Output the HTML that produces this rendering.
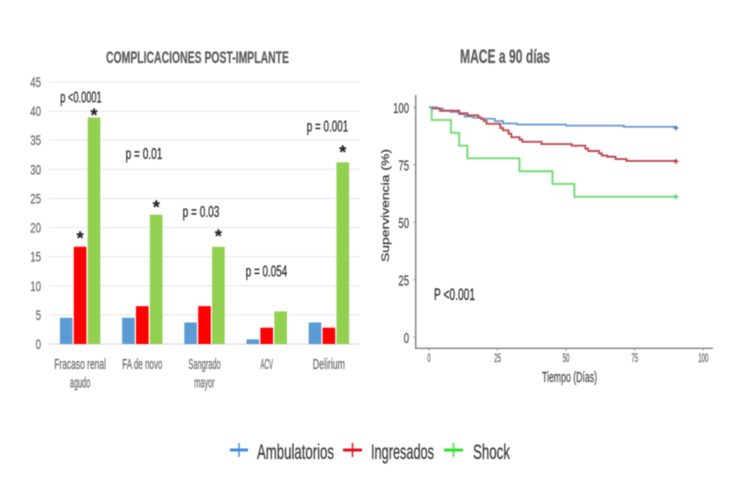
<!DOCTYPE html>
<html lang="es">
<head>
<meta charset="utf-8">
<title>Complicaciones post-implante y MACE a 90 días</title>
<style>
html,body{margin:0;padding:0;background:#fff;width:750px;height:500px;overflow:hidden}
svg{display:block;filter:blur(.5px)}
text{font-family:"Liberation Sans Narrow","Liberation Sans",sans-serif;stroke:currentColor;stroke-width:.2px}
</style>
</head>
<body>
<svg id="figure" width="750" height="500" viewBox="0 0 750 500" xmlns="http://www.w3.org/2000/svg">
  <rect width="750" height="500" fill="#fff"/>
  <g id="bar-chart"></g>
  <g id="km-chart"></g>
  <text x="106" y="63" font-size="16.500" font-weight="700" fill="#595959" color="#595959" textLength="183" lengthAdjust="spacingAndGlyphs">COMPLICACIONES POST-IMPLANTE</text>
  <text x="460" y="63" font-size="19.500" font-weight="700" fill="#595959" color="#595959" textLength="90" lengthAdjust="spacingAndGlyphs">MACE a 90 días</text>
  <text transform="translate(389,262) rotate(-90)" font-size="11" fill="#333" color="#333" style="font-family:'Liberation Sans',sans-serif" textLength="113" lengthAdjust="spacingAndGlyphs">Supervivencia (%)</text>
  <text x="542" y="382" font-size="15" fill="#444" color="#444" textLength="55" lengthAdjust="spacingAndGlyphs">Tiempo (Días)</text>
  <text x="434" y="300" font-size="17" fill="#222" color="#222" textLength="41" lengthAdjust="spacingAndGlyphs">P &lt;0.001</text>
  <g id="legend">
    <g>
      <path d="M230 450H248" stroke="#3f8fdc" stroke-width="3" fill="none"/>
      <path d="M239 443V457" stroke="#3f8fdc" stroke-width="1.500" fill="none"/>
      <text x="257" y="459" font-size="21" fill="#333" color="#333" textLength="77" lengthAdjust="spacingAndGlyphs">Ambulatorios</text>
    </g>
    <g>
      <path d="M343 450H362" stroke="#e3101c" stroke-width="3" fill="none"/>
      <path d="M352.500 443V457" stroke="#e3101c" stroke-width="1.500" fill="none"/>
      <text x="371" y="459" font-size="21" fill="#333" color="#333" textLength="63" lengthAdjust="spacingAndGlyphs">Ingresados</text>
    </g>
    <g>
      <path d="M444 450H463" stroke="#2fe02f" stroke-width="3" fill="none"/>
      <path d="M453.500 443V457" stroke="#2fe02f" stroke-width="1.500" fill="none"/>
      <text x="473" y="459" font-size="21" fill="#333" color="#333" textLength="37" lengthAdjust="spacingAndGlyphs">Shock</text>
    </g>
  </g>
</svg>
<script>
// ---- Bar chart data ----
const barCategories = [["Fracaso renal","agudo"],["FA de novo"],["Sangrado","mayor"],["ACV"],["Delirium"]];
const ambulatoriosValues = [4.5,4.5,3.7,0.8,3.7];
const ingresadosValues = [16.7,6.5,6.5,2.8,2.8];
const shockValues = [38.9,22.2,16.7,5.6,31.2];
const barTickLabels = [0,5,10,15,20,25,30,35,40,45];
const pLabels = ["p <0.0001","p = 0.01","p = 0.03","p = 0.054","p = 0.001"];
const pLabelHeights = [41.5,31.8,21.8,11.6,36.5];
const ingresadosStarLift = [1.85,null,null,null,null];
const shockStarLift = [0.8,1.7,2.2,null,2.1];

// ---- Survival chart data: [day, survival %] ----
const survivalTickX = [0,25,50,75,100];
const survivalTickY = [0,25,50,75,100];
const ambulatoriosDays = [0,3,5,8,11,13,16,19,24,27,32,50,71,90];
const ambulatoriosSurvival = [100,99.5,98.5,98,97,96,95.5,95,94,93,92.5,92,91.5,91];
const ingresadosDays = [1,4,11,14,18,19,20,21,26,27,29,30,33,34,41,52,57,58,62,63,65,68,72,90];
const ingresadosSurvival = [99.5,98.5,97.4,96.5,95.6,95,94,92.8,91,90,88.5,87,86,85,84,83.3,82,81,80,79,78.5,77.5,76.7,76.5];
const shockDays = [0,1,8,11,14,33,45,53,90];
const shockSurvival = [100,94.5,88.9,83.3,77.8,72.2,66.7,61.1,61.1];

const NS = "http://www.w3.org/2000/svg";
function mk(parent, tag, attrs, txt){
  const el = document.createElementNS(NS, tag);
  for (const k in attrs) el.setAttribute(k, attrs[k]);
  if (txt !== undefined) el.textContent = txt;
  parent.appendChild(el);
  return el;
}

// ---- Bar chart axes ----
const barRoot = document.getElementById("bar-chart");
const barLeft = 49, barRight = 360, barZeroY = 344, barPxPerUnit = 262/45;
const bandW = (barRight - barLeft) / barCategories.length;
const barW = 12.6, barGap = 1.3;
const yBar = v => barZeroY - v * barPxPerUnit;
const xBand = i => barLeft + bandW * (i + 0.5);

barTickLabels.forEach(t => {
  const line = mk(barRoot, "line", {x1:barLeft, x2:barRight, y1:yBar(t), y2:yBar(t), stroke: t === 0 ? "#d4d4d4" : "#e6e6e6", "stroke-width":1});
  
  
  const s = String(t);
  const label = mk(barRoot, "text", {x:41, y:yBar(t)+5, "text-anchor":"end", "font-size":14, fill:"#666", color:"#666", textLength:s.length*5.4, lengthAdjust:"spacingAndGlyphs"}, s);
  
  
});

const barSeries = [
  {values:ambulatoriosValues, color:"#5b9bd5", offset:-1},
  {values:ingresadosValues, color:"#ff0000", offset:0},
  {values:shockValues, color:"#92d050", offset:1}
];
barSeries.forEach(series => {
  series.values.forEach((v, i) => {
    const cx = xBand(i) + series.offset * (barW + barGap);
    const bar = mk(barRoot, "rect", {x:cx-barW/2, y:yBar(v), width:barW, height:barZeroY-yBar(v), fill:series.color});
    
    
  });
});

function addStar(i, value, offset){
  const star = mk(barRoot, "text", {x:xBand(i)+offset*(barW+barGap), y:yBar(value)+8.5, "text-anchor":"middle", "font-size":18, "font-weight":700, fill:"#222", color:"#222", style:"font-family:'Liberation Sans',sans-serif"}, "*");
  
  
}
ingresadosStarLift.forEach((lift, i) => { if (lift !== null) addStar(i, ingresadosValues[i] + lift, 0); });
shockStarLift.forEach((lift, i) => { if (lift !== null) addStar(i, shockValues[i] + lift, 1); });

barCategories.forEach((lines, i) => {
  lines.forEach((ln, j) => {
    const label = mk(barRoot, "text", {x:xBand(i), y:369+j*18.5, "text-anchor":"middle", "font-size":14.5, fill:"#666", color:"#666", textLength:ln.length*3.9+1, lengthAdjust:"spacingAndGlyphs"}, ln);
    
    
  });
});

pLabels.forEach((p, i) => {
  const cx = [81,144,201,266.500,327.500][i];
  const label = mk(barRoot, "text", {x:cx, y:yBar(pLabelHeights[i]), "text-anchor":"middle", "font-size":15.5, fill:"#222", color:"#222", textLength:p.length*4.6, lengthAdjust:"spacingAndGlyphs"}, p);
  
  
});

// ---- Survival chart axes ----
const kmRoot = document.getElementById("km-chart");
const xKm = d => 429 + d * 2.743;
const yKm = s => 337.3 - s * 2.3;

const yAxis = mk(kmRoot, "line", {x1:415.7, x2:415.7, y1:95, y2:348.5, stroke:"#808080", "stroke-width":1.4});


const xAxis = mk(kmRoot, "line", {x1:415.1, x2:713, y1:348.3, y2:348.3, stroke:"#808080", "stroke-width":1.4});



survivalTickY.forEach(t => {
  const tick = mk(kmRoot, "line", {x1:413.5, x2:415.7, y1:yKm(t), y2:yKm(t), stroke:"#8a8a8a", "stroke-width":1});
  
  
  const s = String(t);
  const label = mk(kmRoot, "text", {x:409, y:yKm(t)+5.5, "text-anchor":"end", "font-size":15, fill:"#444", color:"#444", textLength:s.length*5.3, lengthAdjust:"spacingAndGlyphs"}, s);
  
  
});
survivalTickX.forEach(t => {
  const tick = mk(kmRoot, "line", {x1:xKm(t), x2:xKm(t), y1:348.3, y2:350.5, stroke:"#8a8a8a", "stroke-width":1});
  
  
  const s = String(t);
  const label = mk(kmRoot, "text", {x:xKm(t), y:362, "text-anchor":"middle", "font-size":11.5, fill:"#555", color:"#555", textLength:s.length*3.3, lengthAdjust:"spacingAndGlyphs"}, s);
  
  
});

function stepPath(days, surv){
  let d = "M" + xKm(days[0]) + " " + yKm(surv[0]);
  for (let i = 1; i < days.length; i++){
    d += "H" + xKm(days[i]) + "V" + yKm(surv[i]);
  }
  return d;
}
const kmSeries = [
  {days:shockDays, surv:shockSurvival, color:"#6fdc70", mark:"#4fd050", name:"survival-line-shock"},
  {days:ambulatoriosDays, surv:ambulatoriosSurvival, color:"#6f9fd2", mark:"#3f7fc0", name:"survival-line-ambulatorios"},
  {days:ingresadosDays, surv:ingresadosSurvival, color:"#bd4a52", mark:"#d01c28", name:"survival-line-ingresados"}
];
kmSeries.forEach(s => {
  const path = mk(kmRoot, "path", {d:stepPath(s.days, s.surv), fill:"none", stroke:s.color, "stroke-width":1.9});
  
  
  const ex = xKm(s.days[s.days.length-1]), ey = yKm(s.surv[s.surv.length-1]);
  const mark = mk(kmRoot, "path", {d:"M"+(ex-2.5)+" "+ey+"H"+(ex+2.5)+"M"+ex+" "+(ey-2.5)+"V"+(ey+2.5), stroke:s.mark, "stroke-width":1.4, fill:"none"});
  
  
});
</script>
</body>
</html>
